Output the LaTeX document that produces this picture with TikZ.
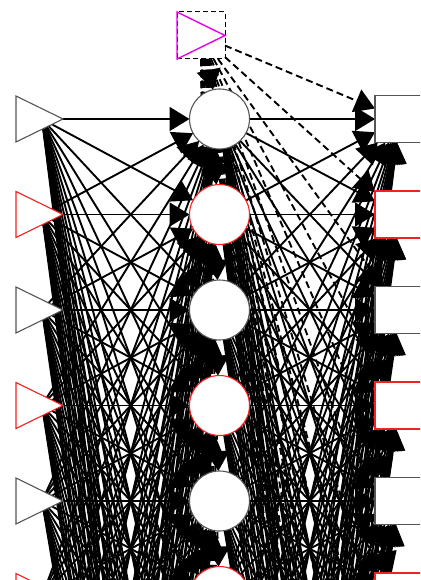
\documentclass[tikz,border=0pt]{standalone}
\usetikzlibrary{shapes.geometric,arrows.meta}
\pgfdeclarelayer{edges}
\pgfsetlayers{edges,main}
\definecolor{nodegray}{RGB}{85,85,85}
\definecolor{nodered}{RGB}{250,30,30}
\definecolor{biasmag}{RGB}{235,0,235}
\begin{document}
\begin{tikzpicture}[x=1pt,y=-1pt,
  inp/.style={isosceles triangle, isosceles triangle stretches, draw, fill=white,
    line width=1.1pt, minimum width=46pt, minimum height=47pt, inner sep=0pt,
    outer sep=0pt, anchor=apex},
  hid/.style={circle, draw, fill=white, line width=1.1pt, minimum size=60pt,
    inner sep=0pt, outer sep=0pt},
  outp/.style={rectangle, draw, fill=white, line width=1.1pt, minimum width=50pt,
    minimum height=47pt, inner sep=0pt, outer sep=0pt},
  biasbox/.style={rectangle, draw=black, line width=1pt, dash pattern=on 5pt off 3pt,
    minimum width=48pt, minimum height=47pt, inner sep=0pt, outer sep=0pt},
  conn/.style={line width=1.9pt, -{Triangle[length=20pt,width=24pt]}},
  biasconn/.style={conn, dash pattern=on 7pt off 4pt},
]
\useasboundingbox (0,0) rectangle (420,580);
\clip (0,0) rectangle (420,580);
% bias
\node[biasbox] (bias) at (201,35.5) {};
\draw[biasmag, line width=1.4pt, line join=miter]
  (bias.north west) -- (bias.east) -- (bias.south west) -- cycle;
% layers
\foreach \i in {1,...,16}{
  \pgfmathsetmacro\yy{119+95.5*(\i-1)}
  \ifodd\i\relax\def\col{nodegray}\else\def\col{nodered}\fi
  \coordinate (ic\i) at (42,\yy);
  \node[inp, draw=\col] (in\i) at (63,\yy) {};
  \node[hid, draw=\col] (h\i) at (219.5,\yy) {};
  \node[outp, draw=\col] (o\i) at (400,\yy) {};
}
\begin{pgfonlayer}{edges}
\clip (0,0) rectangle (420,580);
\foreach \i in {1,...,16}{
  \foreach \j in {1,...,16}{
    \draw[conn] (ic\i) -- (h\j);
    \draw[conn] (h\i) -- (o\j);
  }
  \draw[biasconn] (bias) -- (h\i);
  \draw[biasconn] (bias) -- (o\i);
}
\end{pgfonlayer}
\end{tikzpicture}
\end{document}
